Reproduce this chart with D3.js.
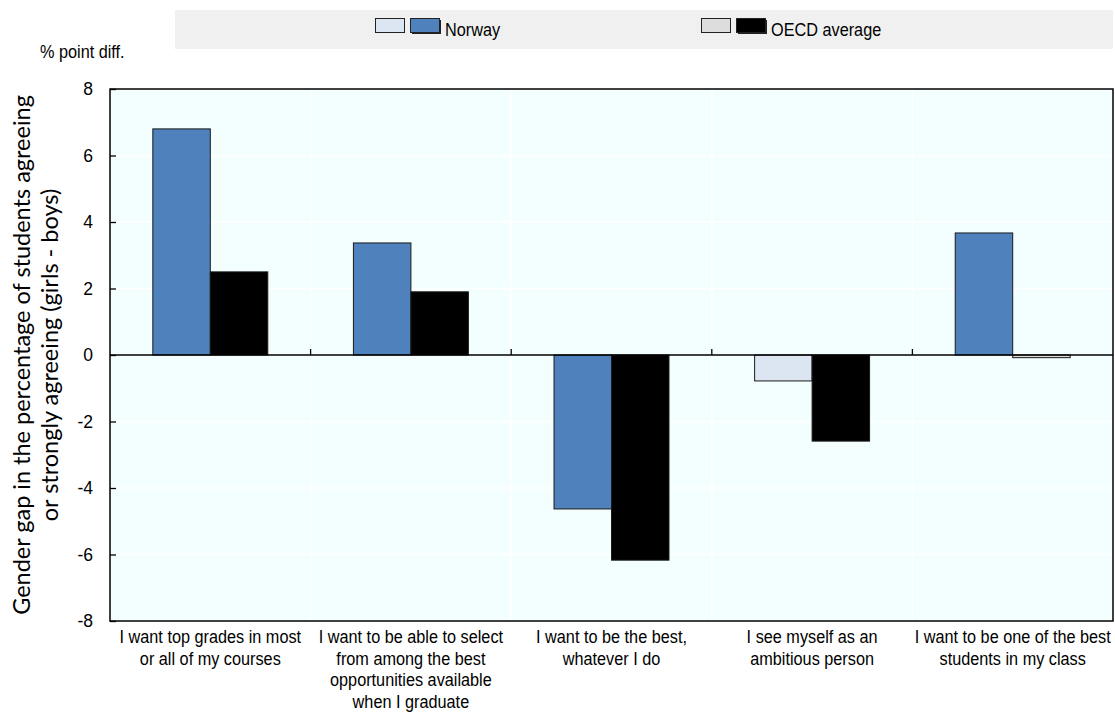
<!DOCTYPE html>
<html><head><meta charset="utf-8">
<script src="https://cdn.jsdelivr.net/npm/d3@7"></script>
<style>body{margin:0;background:#fff;} svg{display:block;}</style>
</head><body>
<svg id="c" width="1115" height="715"></svg>
<script>
const categories = [
  ["I want top grades in most","or all of my courses"],
  ["I want to be able to select","from among the best","opportunities available","when I graduate"],
  ["I want to be the best,","whatever I do"],
  ["I see myself as an","ambitious person"],
  ["I want to be one of the best","students in my class"]
];
const seriesNames = ["Norway","OECD average"];
const norway = [6.8, 3.37, -4.63, -0.78, 3.67];
const oecd = [2.5, 1.9, -6.17, -2.59, -0.08];
const norwaySig = [true, true, true, false, true];
const oecdSig = [true, true, true, true, false];
const yTicks = [-8,-6,-4,-2,0,2,4,6,8];

const font = "'Liberation Sans',Arial,sans-serif";
const FS = 17.5, SX = 0.93;
const svg = d3.select("#c");
const L = 110, R = 1113, T = 89, B = 621;
const y = d3.scaleLinear().domain([-8,8]).range([B,T]);
const x = d3.scaleBand().domain(d3.range(5)).range([L,R]).paddingInner(0).paddingOuter(0);
const inner = d3.scaleBand().domain([0,1]).range([0, x.bandwidth()]).paddingInner(0).paddingOuter(0.745);

function ntext(g, px, py, str, anchor){
  return g.append("text").attr("transform",`translate(${px},${py}) scale(${SX},1)`)
    .attr("text-anchor",anchor||"start").attr("font-family",font).attr("font-size",FS).attr("fill","#000").text(str);
}

// background
svg.append("rect").attr("x",L).attr("y",T).attr("width",R-L).attr("height",B-T).attr("fill","#F3FEFE");
// gridlines
svg.append("g").selectAll("line").data(yTicks).join("line")
  .attr("x1",L).attr("x2",R).attr("y1",d=>y(d)).attr("y2",d=>y(d)).attr("stroke","#fff").attr("stroke-width",1.5);
svg.append("g").selectAll("line").data(d3.range(1,5)).join("line")
  .attr("x1",i=>x(i)).attr("x2",i=>x(i)).attr("y1",T).attr("y2",B).attr("stroke","#fff").attr("stroke-width",1.5);

// legend
svg.append("rect").attr("x",175).attr("y",10).attr("width",938).attr("height",39).attr("fill","#F0F0F0");
const legItems = [
  {x:375, light:"#DCE6F2", dark:"#4F81BD", label:seriesNames[0]},
  {x:701, light:"#DDDDDD", dark:"#000000", label:seriesNames[1]}
];
legItems.forEach(it=>{
  svg.append("rect").attr("x",it.x+0.5).attr("y",18.5).attr("width",29).attr("height",14).attr("fill",it.light).attr("stroke","#222");
  svg.append("rect").attr("x",it.x+37).attr("y",20).attr("width",29).attr("height",14).attr("fill","#222");
  svg.append("rect").attr("x",it.x+35.5).attr("y",18.5).attr("width",29).attr("height",14).attr("fill",it.dark).attr("stroke","#222");
  ntext(svg, it.x+70, 36, it.label);
});

// bars
const data = [];
categories.forEach((c,i)=>{
  data.push({i, s:0, v:norway[i], fill: norwaySig[i] ? "#4F81BD" : "#DCE6F2"});
  data.push({i, s:1, v:oecd[i], fill: oecdSig[i] ? "#000000" : "#DDDDDD"});
});
svg.append("g").selectAll("rect").data(data).join("rect")
  .attr("x",d=>x(d.i)+inner(d.s))
  .attr("width",inner.bandwidth())
  .attr("y",d=>y(Math.max(0,d.v)))
  .attr("height",d=>Math.abs(y(d.v)-y(0)))
  .attr("fill",d=>d.fill).attr("stroke","#1a1a1a").attr("stroke-width",1);

// zero line with ticks
svg.append("line").attr("x1",L).attr("x2",R).attr("y1",y(0)).attr("y2",y(0)).attr("stroke","#000").attr("stroke-width",1.3);
svg.append("g").selectAll("line").data(d3.range(1,5)).join("line")
  .attr("x1",i=>x(i)).attr("x2",i=>x(i)).attr("y1",y(0)-6).attr("y2",y(0)).attr("stroke","#000").attr("stroke-width",1.3);

// frame
svg.append("rect").attr("x",L).attr("y",T).attr("width",R-L).attr("height",B-T).attr("fill","none").attr("stroke","#000").attr("stroke-width",1.5);

// y axis
const yAxis = d3.axisLeft(y).tickValues(yTicks).tickSize(-6).tickPadding(17).tickFormat(d3.format("d"));
const ga = svg.append("g").attr("transform",`translate(${L},0)`).call(yAxis);
ga.select(".domain").remove();
ga.selectAll(".tick line").attr("stroke","#000").attr("stroke-width",1.3);
ga.selectAll(".tick text").attr("font-family",font).attr("font-size",FS).attr("fill","#000")
  .text(d=> d<0 ? "-"+Math.abs(d) : d);

// unit label
ntext(svg, 40, 58, "% point diff.");

// y title
const yt = svg.append("text").attr("transform",`translate(0,${(T+B)/2}) rotate(-90)`)
  .attr("text-anchor","middle").attr("font-family","Lato,'Open Sans',sans-serif").attr("font-size",21).attr("fill","#000");
const t1 = yt.append("tspan").attr("x",0).attr("y",30).text("Gender gap in the percentage of students agreeing");
yt.append("tspan").attr("x",0).attr("y",58).text("or strongly agreeing  (girls - boys)");
// fit title length to the reference span
const len = t1.node().getComputedTextLength();
yt.attr("font-size", 21*520/len);

// category labels
categories.forEach((lines,i)=>{
  lines.forEach((ln,k)=>{
    ntext(svg, x(i)+x.bandwidth()/2, 643+k*21.5, ln, "middle");
  });
});
</script>
</body></html>
